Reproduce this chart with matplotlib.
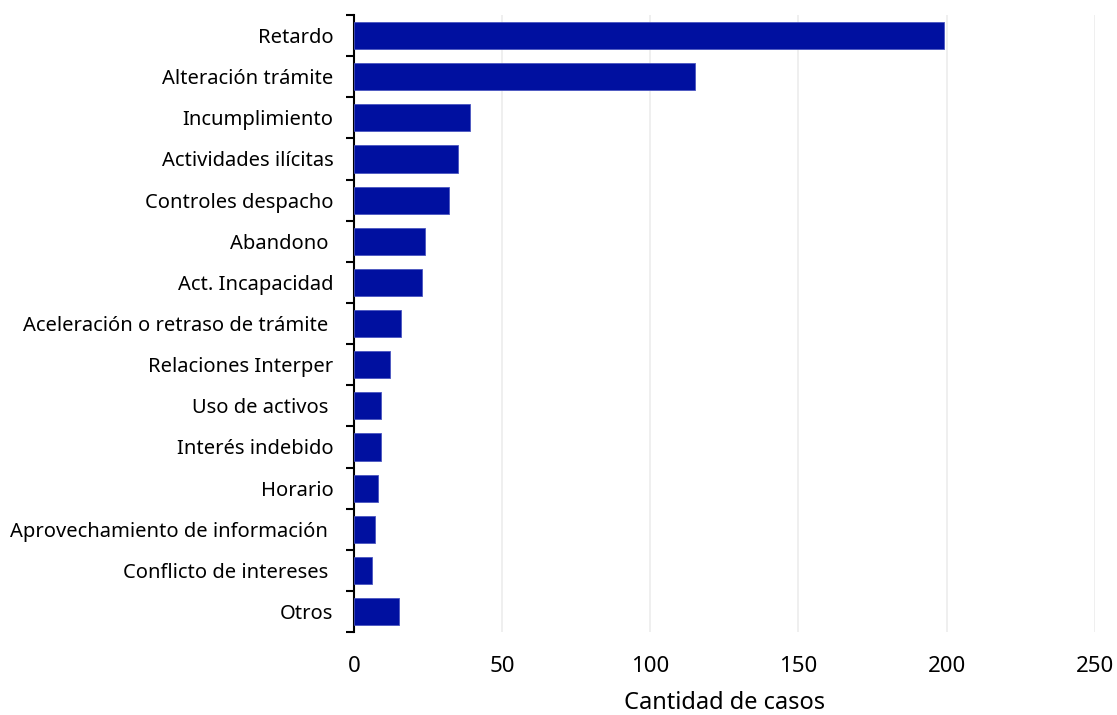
import numpy as np
import matplotlib
matplotlib.use('Agg')
import matplotlib.pyplot as plt

categorias = ['Retardo', 'Alteración trámite', 'Incumplimiento', 'Actividades ilícitas',
              'Controles despacho', 'Abandono ', 'Act. Incapacidad',
              'Aceleración o retraso de trámite ', 'Relaciones Interper', 'Uso de activos ',
              'Interés indebido', 'Horario', 'Aprovechamiento de información ',
              'Conflicto de intereses ', 'Otros']
casos = [199, 115, 39, 35, 32, 24, 23, 16, 12, 9, 9, 8, 7, 6, 15]
xticks = [0, 50, 100, 150, 200, 250]

plt.rcParams['font.family'] = ['Noto Sans', 'DejaVu Sans']

fig = plt.figure(figsize=(11.17, 7.15), dpi=100)
ax = fig.add_axes([0.317, 0.116, 0.663, 0.863])

pos = np.arange(len(categorias))
ax.barh(pos, casos, height=0.66, color='#0010a0', edgecolor='#4a55c0', linewidth=0.6, zorder=3)

ax.set_xlim(0, 250)
ax.set_ylim(len(categorias) - 0.5, -0.5)
ax.set_xticks(xticks)
ax.set_xticklabels([str(t) for t in xticks])
ax.grid(axis='x', color='#ececec', linewidth=1.2, zorder=0)

# category labels sit on minor ticks, boundary marks on major ticks
ax.set_yticks(np.arange(len(categorias) + 1) - 0.5)
ax.set_yticklabels([])
ax.set_yticks(pos, minor=True)
ax.set_yticklabels(categorias, minor=True, fontsize=14.5, va='center_baseline')
ax.tick_params(axis='y', which='major', length=6, width=1.5, color='black')
ax.tick_params(axis='y', which='minor', length=0, pad=15)
ax.tick_params(axis='x', length=0, labelsize=16, pad=17)

for s in ['top', 'right', 'bottom']:
    ax.spines[s].set_visible(False)
ax.spines['left'].set_linewidth(1.5)

ax.set_xlabel('Cantidad de casos', fontsize=17, labelpad=10)

plt.savefig('out.png')
